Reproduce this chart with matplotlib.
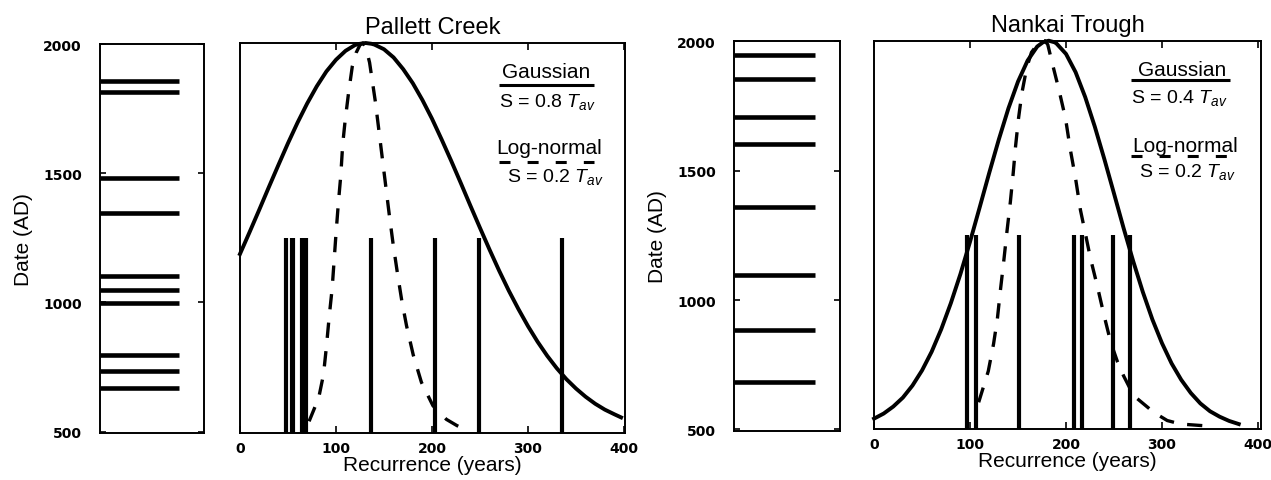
import matplotlib
matplotlib.use("Agg")
import matplotlib.pyplot as plt

plt.rcParams.update({
    "font.family": ["Liberation Sans", "DejaVu Sans"],
    "mathtext.fontset": "custom",
    "mathtext.rm": "Liberation Sans",
    "mathtext.it": "Liberation Sans:italic",
    "axes.linewidth": 1.4,
    "axes.labelsize": 15,
})

# event dates (AD) and the recurrence intervals between them
PALLETT_DATES = [1857, 1815, 1482, 1348, 1101, 1049, 999, 797, 735, 671]
PALLETT_INTERVALS = [48, 54, 55, 65, 69, 137, 203, 249, 335]
NANKAI_DATES = [1946, 1853, 1706, 1604, 1360, 1097, 885, 684]
NANKAI_INTERVALS = [97, 106, 151, 208, 217, 249, 267]

# normalised distributions (peak = 1), solid: gaussian, dashed: log-normal
PALLETT_GAUSS_X = [0, 10, 20, 30, 40, 50, 60, 70, 80, 90, 100, 110, 120, 125,
                   131, 137, 140, 150, 160, 170, 180, 190, 200, 210, 220, 230,
                   240, 250, 260, 270, 280, 290, 300, 310, 320, 330, 340, 350,
                   360, 370, 380, 390, 397]
PALLETT_GAUSS_Y = [0.459, 0.515, 0.572, 0.630, 0.687, 0.743, 0.796, 0.845,
                   0.889, 0.927, 0.957, 0.980, 0.995, 0.998, 1.0, 0.998, 0.996,
                   0.984, 0.963, 0.933, 0.897, 0.854, 0.806, 0.753, 0.698,
                   0.641, 0.583, 0.526, 0.470, 0.416, 0.365, 0.318, 0.274,
                   0.234, 0.198, 0.166, 0.138, 0.114, 0.093, 0.075, 0.060,
                   0.048, 0.040]
PALLETT_LOGN_X = [72, 82, 87, 90, 93, 96, 98, 100, 102.5, 105, 107, 109.5, 113,
                  117, 121, 125, 128, 131, 135, 141, 145, 148.5, 152, 155.5,
                  159.5, 164, 168.5, 173.5, 180.5, 189, 201, 215, 226, 232]
PALLETT_LOGN_Y = [0.03, 0.09, 0.15, 0.22, 0.30, 0.37, 0.44, 0.51, 0.59, 0.66,
                  0.74, 0.80, 0.87, 0.94, 0.975, 0.995, 1.0, 0.99, 0.95, 0.85,
                  0.77, 0.70, 0.63, 0.56, 0.485, 0.41, 0.34, 0.275, 0.20, 0.13,
                  0.07, 0.035, 0.019, 0.012]

NANKAI_GAUSS_X = [0, 10, 20, 30, 40, 50, 60, 70, 80, 90, 100, 110, 120, 130,
                  140, 150, 160, 170, 176, 182, 188, 190, 200, 210, 220, 230,
                  240, 250, 260, 270, 280, 290, 300, 310, 320, 330, 340, 350,
                  360, 370, 380]
NANKAI_GAUSS_Y = [0.028, 0.041, 0.059, 0.082, 0.113, 0.152, 0.200, 0.258,
                  0.325, 0.400, 0.483, 0.571, 0.660, 0.746, 0.826, 0.895,
                  0.949, 0.985, 0.996, 1.0, 0.996, 0.993, 0.966, 0.919, 0.855,
                  0.779, 0.695, 0.607, 0.518, 0.433, 0.354, 0.283, 0.222,
                  0.170, 0.128, 0.094, 0.067, 0.047, 0.033, 0.022, 0.014]
NANKAI_LOGN_X = [109, 119, 124.5, 128.5, 131.5, 135, 138.5, 142, 145, 147.5,
                 150.5, 154, 159, 164, 170, 178, 181, 185.5, 192.5, 199.5,
                 204.5, 210, 215, 220.5, 225.5, 232.5, 239.5, 246.5, 253.5,
                 260, 270.5, 291.5, 305.5, 319.5, 342]
NANKAI_LOGN_Y = [0.07, 0.15, 0.22, 0.285, 0.355, 0.43, 0.51, 0.585, 0.66, 0.73,
                 0.80, 0.865, 0.93, 0.97, 0.99, 1.0, 0.99, 0.944, 0.875, 0.80,
                 0.72, 0.645, 0.565, 0.50, 0.44, 0.37, 0.295, 0.225, 0.175,
                 0.138, 0.087, 0.044, 0.023, 0.014, 0.01]

PALLETT_S = ("S = 0.8 $T_{av}$", "S = 0.2 $T_{av}$")
NANKAI_S = ("S = 0.4 $T_{av}$", "S = 0.2 $T_{av}$")

TICK_FONT = dict(family="DejaVu Sans", weight="bold", size=10)

fig = plt.figure(figsize=(12.71, 4.81), dpi=100)


def date_panel(rect, dates):
    ax = fig.add_axes(rect)
    ax.hlines(dates, 0, 0.76, color="k", lw=3.3)
    ax.set_xlim(0, 1)
    ax.set_ylim(495, 2000)
    ax.set_xticks([])
    ax.set_yticks([500, 1000, 1500, 2000])
    ax.tick_params(axis="y", direction="in", left=True, right=True,
                   length=4.5, width=1.2, pad=13)
    for lbl in ax.get_yticklabels():
        lbl.set_fontproperties(TICK_FONT)
    ax.set_ylabel("Date (AD)", labelpad=7)
    return ax


def main_panel(rect, title, xmax, intervals, gx, gy, lx, ly, labels, pos):
    ax = fig.add_axes(rect)
    ax.vlines(intervals, 0, 0.5, color="k", lw=3)
    ax.plot(gx, gy, color="k", lw=2.8, clip_on=False, solid_joinstyle="round")
    ax.plot(lx, ly, color="k", lw=2.4, ls=(0, (4.6, 4)), clip_on=False)
    ax.set_xlim(0, xmax)
    ax.set_ylim(0, 1)
    ax.set_yticks([])
    ax.set_xticks([0, 100, 200, 300, 400])
    ax.tick_params(axis="x", direction="in", top=True, bottom=True,
                   length=5, width=1.2, pad=5.5)
    for lbl in ax.get_xticklabels():
        lbl.set_fontproperties(TICK_FONT)
    ax.set_title(title, fontsize=17, pad=7)
    ax.set_xlabel("Recurrence (years)", labelpad=0)

    # legend block: names underlined with the matching line style
    p = pos
    ax.text(p["gc"], p["gb"], "Gaussian", fontsize=15, ha="center", va="baseline")
    ax.plot([p["x0"], p["x1"]], [p["gu"], p["gu"]], color="k", lw=2.2,
            solid_capstyle="butt")
    ax.text(p["x0"], p["sb1"], labels[0], fontsize=14, ha="left", va="baseline")
    ax.text(p["gc"] + 3, p["lb"], "Log-normal", fontsize=15, ha="center",
            va="baseline")
    ax.plot([p["x0"], p["x1"]], [p["lu"], p["lu"]], color="k", lw=2.2,
            ls=(0, (3.6, 5.6)), dash_capstyle="butt")
    ax.text(p["x0"] + 8, p["sb2"], labels[1], fontsize=14, ha="left",
            va="baseline")
    return ax


date_panel([0.0787, 0.0977, 0.0818, 0.8087], PALLETT_DATES)
main_panel([0.1888, 0.0977, 0.3029, 0.8108], "Pallett Creek", 401,
           PALLETT_INTERVALS, PALLETT_GAUSS_X, PALLETT_GAUSS_Y,
           PALLETT_LOGN_X, PALLETT_LOGN_Y, PALLETT_S,
           dict(gc=319, gb=0.912, gu=0.892, x0=270, x1=369, sb1=0.838,
                lb=0.718, lu=0.696, sb2=0.647))

date_panel([0.5775, 0.1025, 0.0834, 0.8096], NANKAI_DATES)
main_panel([0.6877, 0.105, 0.3043, 0.8083], "Nankai Trough", 403,
           NANKAI_INTERVALS, NANKAI_GAUSS_X, NANKAI_GAUSS_Y,
           NANKAI_LOGN_X, NANKAI_LOGN_Y, NANKAI_S,
           dict(gc=321, gb=0.911, gu=0.899, x0=268, x1=371, sb1=0.842,
                lb=0.717, lu=0.704, sb2=0.652))

fig.savefig("out.png", dpi=100)
